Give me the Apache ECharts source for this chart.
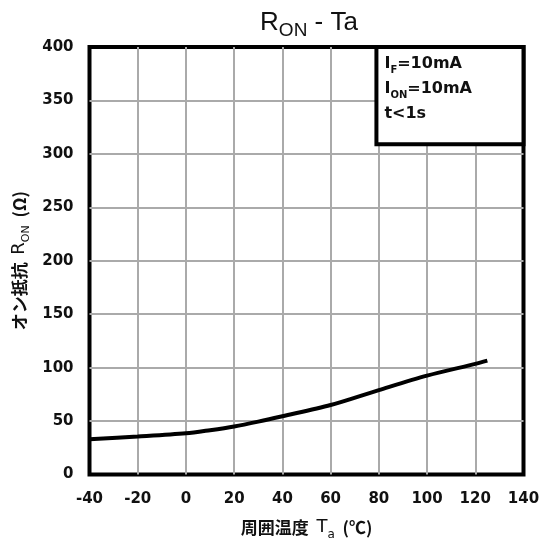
<!DOCTYPE html>
<html>
<head>
<meta charset="utf-8">
<script src="https://cdn.jsdelivr.net/npm/echarts@6/dist/echarts.min.js"></script>
<style>html,body{margin:0;padding:0;background:#fff;}#c{width:551px;height:541px;}</style>
</head>
<body>
<div id="c"></div>
<script>
// Data
const temperature = [-40, -20, 0, 10, 20, 30, 40, 60, 80, 100, 120, 125];
const ronValues = [33, 35.5, 38.5, 41.5, 45, 49.5, 54.5, 65, 79, 92.5, 103.5, 106.5];
const xTicks = [-40, 140, 20];   // min, max, interval
const yTicks = [0, 400, 50];     // min, max, interval
const noteBox = [[79, 309], [140, 400]];
const noteLines = [['I', 'F', '=10mA'], ['I', 'ON', '=10mA'], ['t<1s', '', '']];

const FONT = '"DejaVu Sans", Verdana, sans-serif';
const CJK = '"Noto Sans CJK JP", "DejaVu Sans", sans-serif';

const noteText = noteLines.map(l => '{b|' + l[0] + '}' + (l[1] ? '{s|' + l[1] + '}' : '') + (l[2] ? '{b|' + l[2] + '}' : '')).join('\n');

const chart = echarts.init(document.getElementById('c'), null, {renderer: 'canvas'});
chart.setOption({
  animation: false,
  backgroundColor: '#fff',
  title: {
    text: '{a|R}{s|ON}{a| - Ta}',
    left: 304, top: 1, textAlign: 'center',
    textStyle: {
      fontWeight: 'normal',
      rich: {
        a: {fontFamily: 'Liberation Sans, Arial, sans-serif', fontWeight: 'normal', fontSize: 26, color: '#111', lineHeight: 30, verticalAlign: 'bottom'},
        s: {fontFamily: 'Liberation Sans, Arial, sans-serif', fontWeight: 'normal', fontSize: 19, color: '#111', lineHeight: 24, verticalAlign: 'bottom', padding: [0, 0, -4, 0]}
      }
    }
  },
  grid: {left: 89.5, right: 27.5, top: 47, bottom: 66.5, outerBoundsMode: 'none', containLabel: false, show: true, borderColor: '#000', borderWidth: 4, backgroundColor: '#fff'},
  xAxis: {
    type: 'value', min: xTicks[0], max: xTicks[1], interval: xTicks[2],
    name: '{c|周囲温度  }{b|T}{s|a}{c|  (℃)}',
    nameLocation: 'middle', nameGap: 38,
    nameTextStyle: {
      rich: {
        c: {fontFamily: CJK, fontSize: 17, fontWeight: 'bold', color: '#111', verticalAlign: 'bottom', lineHeight: 24},
        b: {fontFamily: FONT, fontSize: 18, color: '#111', verticalAlign: 'bottom', lineHeight: 24},
        s: {fontFamily: FONT, fontSize: 12, color: '#111', verticalAlign: 'bottom', lineHeight: 24, padding: [0, 0, -4, 0]}
      }
    },
    axisLine: {show: false}, axisTick: {show: false},
    axisLabel: {fontFamily: FONT, fontWeight: 'bold', fontSize: 15, color: '#111', margin: 17, showMinLabel: true, showMaxLabel: true},
    splitLine: {show: true, showMinLine: false, showMaxLine: false, lineStyle: {color: '#aaaaaa', width: 2}}
  },
  yAxis: {
    type: 'value', min: yTicks[0], max: yTicks[1], interval: yTicks[2],
    name: '{c|オン抵抗  }{b|R}{s|ON}{c|  (Ω)}',
    nameLocation: 'middle', nameGap: 49,
    nameTextStyle: {
      rich: {
        c: {fontFamily: CJK, fontSize: 17, fontWeight: 'bold', color: '#111', verticalAlign: 'bottom', lineHeight: 24},
        b: {fontFamily: FONT, fontSize: 18, color: '#111', verticalAlign: 'bottom', lineHeight: 24},
        s: {fontFamily: FONT, fontSize: 11, color: '#111', verticalAlign: 'bottom', lineHeight: 24, padding: [0, 0, -3, 0]}
      }
    },
    axisLine: {show: false}, axisTick: {show: false},
    axisLabel: {fontFamily: FONT, fontWeight: 'bold', fontSize: 15, color: '#111', margin: 16},
    splitLine: {show: true, showMinLine: false, showMaxLine: false, lineStyle: {color: '#aaaaaa', width: 2}}
  },
  series: [{
    type: 'line',
    data: temperature.map((t, i) => [t, ronValues[i]]),
    smooth: 0.3,
    symbol: 'none',
    lineStyle: {color: '#000', width: 4},
    z: 5,
    markArea: {
      silent: true,
      itemStyle: {color: '#fff', borderColor: '#000', borderWidth: 4},
      label: {
        show: true, position: 'insideTopLeft', distance: 2, padding: [0, 0, 0, 8],
        formatter: noteText,
        rich: {
          b: {fontFamily: FONT, fontWeight: 'bold', fontSize: 16, color: '#111', lineHeight: 25, verticalAlign: 'bottom'},
          s: {fontFamily: FONT, fontWeight: 'bold', fontSize: 10, color: '#111', lineHeight: 21, verticalAlign: 'bottom', padding: [0, 0, -3, 0]}
        }
      },
      data: [[{xAxis: noteBox[0][0], yAxis: noteBox[0][1]}, {xAxis: noteBox[1][0], yAxis: noteBox[1][1]}]]
    }
  }]
});
</script>
</body>
</html>
